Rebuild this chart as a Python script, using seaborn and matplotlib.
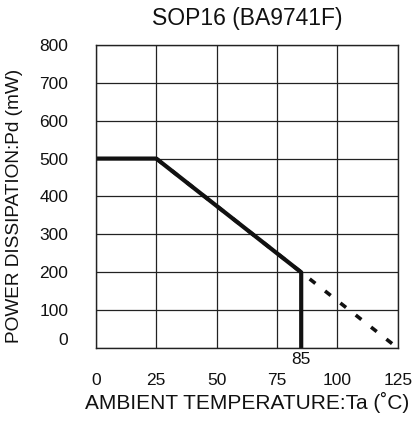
import pandas as pd
import seaborn as sns
import matplotlib.pyplot as plt

# derating curve (solid) and extrapolated line (dashed)
temp_solid = [0, 25, 85, 85]
pd_solid = [500, 500, 200, 0]
temp_dash = [25, 125]
pd_dash = [500, 0]
x_ticks = [0, 25, 50, 75, 100, 125]
y_ticks = [0, 100, 200, 300, 400, 500, 600, 700, 800]

solid = pd.DataFrame({'temp': temp_solid, 'pd': pd_solid})
dash = pd.DataFrame({'temp': temp_dash, 'pd': pd_dash})

sns.set_style("white")
plt.rcParams['font.family'] = ['Liberation Sans', 'DejaVu Sans']

fig = plt.figure(figsize=(4.17, 4.23), dpi=100)
ax = fig.add_axes([0.230, 0.177, 0.724, 0.717])

sns.lineplot(x='temp', y='pd', data=dash, ax=ax, color='#111111', lw=2.6,
             linestyle=(0, (2, 3.4)), sort=False)
sns.lineplot(x='temp', y='pd', data=solid, ax=ax, color='#111111', lw=3,
             sort=False, estimator=None)

ax.set_xlim(0, 125)
ax.set_ylim(0, 800)
ax.set_xticks(x_ticks)
ax.set_yticks(y_ticks)
ax.grid(True, color='#222222', lw=0.9)
for s in ax.spines.values():
    s.set_color('#222222')
    s.set_linewidth(1.0)
ax.tick_params(axis='both', length=0, labelsize=12.5, colors='#111111')
ax.tick_params(axis='x', pad=18)
ax.tick_params(axis='y', pad=20)
# the zero label sits a bit above the axis, like the datasheet
ax.get_yticklabels()[0].set_verticalalignment('bottom')

ax.text(85, -10, '85', ha='center', va='top', fontsize=12.5, color='#111111')
ax.set_xlabel('AMBIENT TEMPERATURE:Ta (˚C)', fontsize=15, color='#111111', labelpad=3)
ax.set_ylabel('POWER DISSIPATION:Pd (mW)', fontsize=13.7, color='#111111')
ax.yaxis.set_label_coords(-0.24, 0.47)
ax.set_title('SOP16 (BA9741F)', fontsize=16.5, color='#111111', pad=14)

plt.savefig('out.png', dpi=100)
